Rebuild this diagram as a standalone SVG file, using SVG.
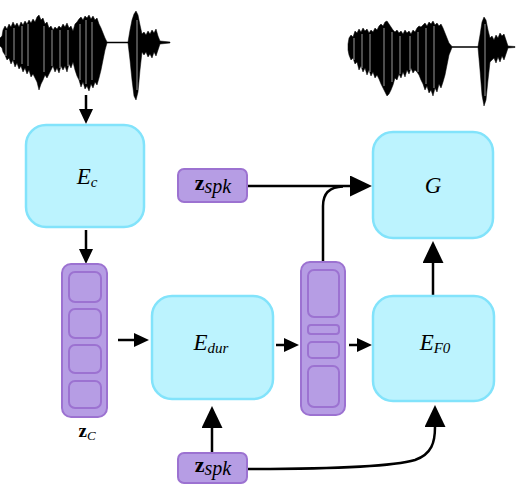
<svg xmlns="http://www.w3.org/2000/svg" width="518" height="484" viewBox="0 0 518 484">
<style>
.cy{fill:#bcf3fe;stroke:#82e3fb;stroke-width:2.5}
.pu{fill:#b69de4;stroke:#9c72d1;stroke-width:2}
.cell{fill:#b69de4;stroke:#9c72d1;stroke-width:2}
.ln{fill:none;stroke:#000;stroke-width:2.5}
.lbl{font-family:"Liberation Serif","Times New Roman",serif;font-size:23px;font-style:italic;fill:#000}
.sub{font-size:15px}
.zb{font-family:"Liberation Serif","Times New Roman",serif;font-weight:bold;font-style:normal;fill:#000}
.it{font-family:"Liberation Serif","Times New Roman",serif;font-style:italic;fill:#000}
.wave{fill:#000;stroke:#000;stroke-width:0.5;stroke-linejoin:miter}
.gap{stroke:#fff;stroke-width:0.6}
</style>
<defs>
<marker id="ms" markerUnits="userSpaceOnUse" markerWidth="16" markerHeight="14" refX="0" refY="7" orient="auto">
<path d="M0,0 L15,7 L0,14 z" fill="#000"/>
</marker>
<marker id="mb" markerUnits="userSpaceOnUse" markerWidth="23" markerHeight="21" refX="0" refY="10.5" orient="auto">
<path d="M0,0 L22,10.5 L0,21 z" fill="#000"/>
</marker>
</defs>

<g id="wave-in">
<polygon class="wave" points="0,38 2,36 3,30 5,26 7,29 9,24 11,27 13,22 15,26 17,23 19,27 21,22 23,25 25,21 27,24 29,20 31,23 33,19 35,22 37,17 39,15 41,20 43,18 45,24 47,22 49,28 51,26 53,30 55,27 57,29 59,26 61,28 63,24 65,27 67,23 69,28 71,26 73,31 75,24 77,22 79,19 81,17 83,20 85,16 87,18 89,15 91,19 93,16 95,20 97,18 99,24 101,28 103,33 105,38 107,42 128,42 130,30 132,20 134,14 136,11 138,15 140,25 142,34 144,32 146,35 148,31 150,34 152,30 154,33 156,29 158,36 160,41 170,42 170,43 160,44 158,50 156,56 154,52 152,58 150,54 148,57 146,52 144,55 142,52 140,70 138,92 136,100 134,96 132,80 130,60 128,43 107,43 105,50 103,60 101,70 99,78 97,85 95,82 93,88 91,84 89,91 87,86 85,89 83,82 81,87 79,80 77,76 75,70 73,62 71,68 69,64 67,72 65,66 63,70 61,66 59,73 57,68 55,72 53,66 51,70 49,74 47,78 45,75 43,80 41,84 39,90 37,82 35,78 33,74 31,77 29,70 27,74 25,68 23,72 21,66 19,69 17,63 15,67 13,60 11,64 9,58 7,60 5,55 3,52 2,48 0,46"/>
<path class="gap" d="M6,30V56 M14,28V60 M22,26V64 M28,24V66 M44,26V72 M52,30V66 M60,30V68 M68,30V66 M80,24V80 M86,20V84 M92,22V80 M137,20V90"/>
</g>

<g id="wave-out">
<polygon class="wave" points="348,44 349,38 351,35 353,37 355,31 357,33 359,29 361,32 363,28 365,31 367,29 369,33 371,30 373,32 375,28 377,30 379,26 381,24 383,26 385,22 387,21 389,24 391,27 393,30 395,32 397,30 399,33 401,31 403,34 405,30 407,33 409,31 411,34 413,30 415,32 417,28 419,26 421,27 423,25 425,23 427,26 429,22 431,24 433,21 435,25 437,23 439,26 441,24 443,28 445,33 447,38 449,43 452,46.5 478,46.5 480,35 482,22 484,17 486,20 488,30 490,38 492,36 494,40 496,35 498,38 500,33 502,36 504,34 506,40 508,46 515,46.5 515,47.5 508,48 506,54 504,60 502,56 500,62 498,57 496,63 494,58 492,60 490,62 488,80 486,100 484,106 482,95 480,70 478,47.5 452,47.5 449,55 447,65 445,75 443,82 441,88 439,84 437,92 435,88 433,96 431,90 429,93 427,86 425,90 423,84 421,80 419,75 417,72 415,70 413,73 411,68 409,74 407,70 405,77 403,72 401,78 399,74 397,80 395,78 393,85 391,90 389,94 387,96 385,92 383,88 381,84 379,79 377,75 375,78 373,72 371,76 369,70 367,75 365,68 363,72 361,66 359,70 357,62 355,64 353,58 351,60 349,55 348,50"/>
<path class="gap" d="M354,38V60 M362,34V68 M370,34V72 M384,28V86 M392,32V82 M400,36V74 M410,36V70 M418,32V72 M426,28V84 M434,26V88 M485,24V96"/>
</g>

<g id="connectors">
<line class="ln" x1="86" y1="95" x2="86" y2="109" marker-end="url(#ms)"/>
<line class="ln" x1="86" y1="230" x2="86" y2="249" marker-end="url(#ms)"/>
<line class="ln" x1="118" y1="340" x2="134" y2="340" marker-end="url(#ms)"/>
<line class="ln" x1="276" y1="345" x2="284" y2="345" marker-end="url(#ms)"/>
<line class="ln" x1="349" y1="345" x2="357" y2="345" marker-end="url(#ms)"/>
<line class="ln" x1="247" y1="186" x2="350" y2="186" marker-end="url(#mb)"/>
<path class="ln" d="M323,262 V206 Q323,187 343,186.5"/>
<line class="ln" x1="433" y1="296" x2="433" y2="263" marker-end="url(#mb)"/>
<line class="ln" x1="212" y1="453" x2="212" y2="428" marker-end="url(#mb)"/>
<path class="ln" d="M247,469 C340,469 395,466 415,460 C432,454 435,442 435,427" marker-end="url(#mb)"/>
</g>

<g id="Ec">
<rect class="cy" x="26" y="125" width="118" height="102" rx="20"/>
<text class="lbl" x="87" y="184" text-anchor="middle">E<tspan class="sub" dy="3">c</tspan></text>
</g>

<g id="zc">
<rect class="pu" x="62" y="264" width="45" height="153" rx="9"/>
<rect class="cell" x="69" y="272" width="32" height="30" rx="6"/>
<rect class="cell" x="69" y="309" width="32" height="29" rx="6"/>
<rect class="cell" x="69" y="345" width="32" height="28" rx="6"/>
<rect class="cell" x="69" y="381" width="32" height="27" rx="6"/>
<text x="87" y="437" text-anchor="middle"><tspan class="zb" style="font-size:19px">z</tspan><tspan class="it" style="font-size:13px" dy="3">C</tspan></text>
</g>

<g id="Edur">
<rect class="cy" x="152" y="296" width="121" height="103" rx="20"/>
<text class="lbl" x="211" y="350" text-anchor="middle">E<tspan class="sub" dy="3">dur</tspan></text>
</g>

<g id="mid">
<rect class="pu" x="301" y="262" width="44" height="153" rx="9"/>
<rect class="cell" x="308" y="270" width="31" height="47" rx="6"/>
<rect class="cell" x="308" y="325" width="31" height="9" rx="3"/>
<rect class="cell" x="308" y="342" width="31" height="16" rx="4"/>
<rect class="cell" x="308" y="366" width="31" height="41" rx="6"/>
</g>

<g id="EF0">
<rect class="cy" x="373" y="296" width="121" height="105" rx="20"/>
<text class="lbl" x="435" y="350" text-anchor="middle">E<tspan class="sub" dy="3">F0</tspan></text>
</g>

<g id="G">
<rect class="cy" x="373" y="132" width="120" height="106" rx="20"/>
<text class="lbl" x="433" y="193" text-anchor="middle">G</text>
</g>

<g id="zspk-top">
<rect class="pu" x="178" y="169" width="69" height="33" rx="6"/>
<text x="213" y="190" text-anchor="middle"><tspan class="zb" style="font-size:22px">z</tspan><tspan class="it" style="font-size:20px" dy="3">spk</tspan></text>
</g>

<g id="zspk-bottom">
<rect class="pu" x="178" y="453" width="69" height="30" rx="6"/>
<text x="213" y="472" text-anchor="middle"><tspan class="zb" style="font-size:22px">z</tspan><tspan class="it" style="font-size:20px" dy="3">spk</tspan></text>
</g>
</svg>
